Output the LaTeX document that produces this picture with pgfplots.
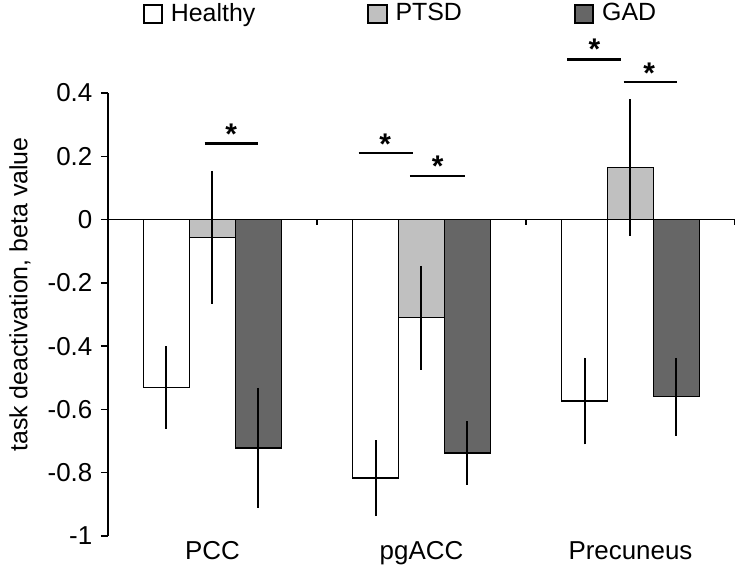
\documentclass[border=0pt]{standalone}
\usepackage{fontspec}
\setmainfont{Liberation Sans}
\usepackage{pgfplots}
\pgfplotsset{compat=1.18}
\definecolor{ptsd}{RGB}{192,192,192}
\definecolor{gad}{RGB}{102,102,102}
\pgfplotsset{
  mybar/.style={ybar, bar width=0.22, bar shift=0, draw=black, line width=0.7bp,
    legend image code/.code={\draw[##1, line width=0.9bp] (0bp,-4.6bp) rectangle (9.2bp,4.6bp);},
    error bars/y dir=both, error bars/y explicit, error bars/error mark=none,
    error bars/error bar style={line width=1bp, black, solid}},
}
\begin{document}
\fontsize{12.5}{15}\selectfont
\begin{tikzpicture}
\begin{axis}[
  scale only axis, width=313.5bp, height=221.5bp,
  xmin=-0.5, xmax=2.5, ymin=-1, ymax=0.4,
  clip=false,
  axis x line*=bottom, axis y line*=left,
  x axis line style={draw=none},
  y axis line style={black, line width=0.7bp},
  xtick={0,1,2}, xticklabels={PCC,pgACC,Precuneus},
  x tick style={draw=none},
  xticklabel style={yshift=5bp, font=\fontsize{13}{15}\selectfont},
  ytick={-1,-0.8,-0.6,-0.4,-0.2,0,0.2,0.4},
  yticklabels={-1,-0.8,-0.6,-0.4,-0.2,0,0.2,0.4},
  yticklabel style={font=\fontsize{13}{15}\selectfont},
  y tick style={black, line width=0.7bp},
  tick align=outside, major tick length=3.5bp,
  ylabel={task deactivation, beta value},
  ylabel style={xshift=10bp},
  legend columns=3,
  legend style={at={(rel axis cs:0.468,1.178)}, anchor=center, draw=none, fill=none,
    font=\fontsize{12.5}{15}\selectfont,
    /tikz/every odd column/.append style={column sep=2bp},
    /tikz/every even column/.append style={column sep=54bp}},
]
\addplot[mybar, fill=white] coordinates {
  (-0.22,-0.531) +- (0,0.13)
  (0.78,-0.817) +- (0,0.12)
  (1.78,-0.573) +- (0,0.137)
};
\addplot[mybar, fill=ptsd] coordinates {
  (0,-0.056) +- (0,0.21)
  (1,-0.31) +- (0,0.164)
  (2,0.165) +- (0,0.216)
};
\addplot[mybar, fill=gad] coordinates {
  (0.22,-0.722) +- (0,0.19)
  (1.22,-0.738) +- (0,0.10)
  (2.22,-0.56) +- (0,0.123)
};
\legend{Healthy,PTSD,GAD}
% zero line and group separators
\draw[line width=0.7bp] (axis cs:-0.5,0) -- (axis cs:2.5,0);
\draw[line width=0.7bp] (axis cs:0.5,0) -- (axis cs:0.5,-0.016);
\draw[line width=0.7bp] (axis cs:1.5,0) -- (axis cs:1.5,-0.016);
\draw[line width=0.7bp] (axis cs:2.5,0) -- (axis cs:2.5,-0.016);
% significance markers
\draw[line width=1.2bp] (axis cs:-0.038,0.241) -- (axis cs:0.219,0.241);
\node[font=\fontsize{15}{15}\bfseries, yshift=-3bp] at (axis cs:0.09,0.289) {*};
\draw[line width=1.2bp] (axis cs:0.699,0.21) -- (axis cs:0.958,0.21);
\node[font=\fontsize{15}{15}\bfseries, yshift=-3bp] at (axis cs:0.826,0.257) {*};
\draw[line width=1.2bp] (axis cs:0.945,0.137) -- (axis cs:1.206,0.137);
\node[font=\fontsize{15}{15}\bfseries, yshift=-3bp] at (axis cs:1.077,0.188) {*};
\draw[line width=1.2bp] (axis cs:1.697,0.506) -- (axis cs:1.955,0.506);
\node[font=\fontsize{15}{15}\bfseries, yshift=-3bp] at (axis cs:1.828,0.557) {*};
\draw[line width=1.2bp] (axis cs:1.967,0.435) -- (axis cs:2.224,0.435);
\node[font=\fontsize{15}{15}\bfseries, yshift=-3bp] at (axis cs:2.09,0.483) {*};
\coordinate (bbbl) at (rel axis cs:-0.1722,-0.0722);
\coordinate (bbtr) at (rel axis cs:1,1.2099);
\end{axis}
\pgfresetboundingbox
\path (bbbl) rectangle (bbtr);
\end{tikzpicture}
\end{document}
